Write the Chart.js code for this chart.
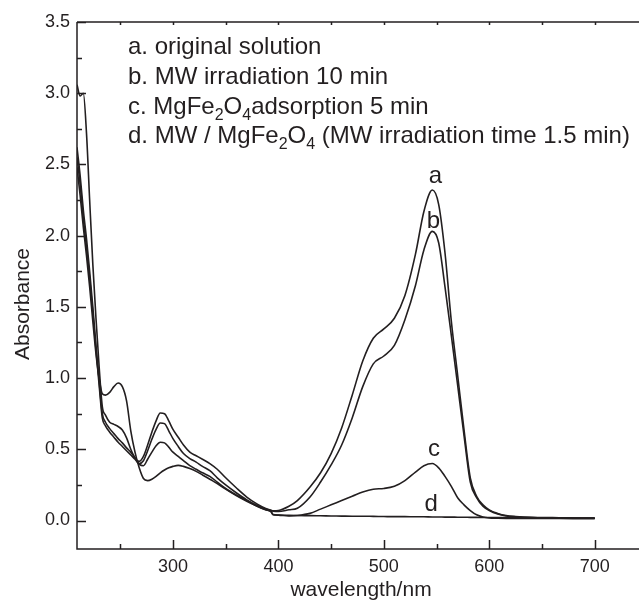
<!DOCTYPE html>
<html>
<head>
<meta charset="utf-8">
<script src="https://cdn.jsdelivr.net/npm/chart.js@4.4.0/dist/chart.umd.min.js"></script>
<style>
  html, body { margin: 0; padding: 0; background: #fff; }
  canvas { display: block; }
</style>
</head>
<body>
<canvas id="uvChart" width="639" height="600"></canvas>
<script>
// === DỮ LIỆU ===
// bước sóng (nm), dùng chung cho 4 đường
const wavelength = [209, 212, 215, 218, 221, 224, 227, 230, 233, 236,
    240, 244, 248, 252, 256, 260, 264, 268, 272, 276,
    280, 284, 288, 292, 296, 300, 305, 310, 316, 322,
    328, 335, 342, 350, 360, 370, 380, 388, 393, 395,
    400, 410, 418, 430, 440, 450, 460, 470, 480, 490,
    500, 510, 520, 530, 538, 546, 552, 558, 564, 570,
    576, 582, 588, 594, 600, 608, 616, 625, 640, 660,
    680, 700];

// a. original solution
const absA = [3.06, 2.98, 3.00, 2.72, 2.25, 1.80, 1.42, 1.08, 0.80, 0.74,
    0.69, 0.675, 0.66, 0.635, 0.58, 0.50, 0.44, 0.415, 0.45, 0.53,
    0.62, 0.70, 0.755, 0.75, 0.70, 0.64, 0.585, 0.53, 0.48, 0.455,
    0.43, 0.40, 0.36, 0.30, 0.23, 0.165, 0.115, 0.085, 0.072, 0.068,
    0.07, 0.10, 0.14, 0.235, 0.335, 0.47, 0.65, 0.88, 1.12, 1.28,
    1.345, 1.42, 1.58, 1.87, 2.17, 2.32, 2.22, 1.88, 1.40, 1.02,
    0.64, 0.30, 0.17, 0.11, 0.075, 0.05, 0.035, 0.028, 0.022, 0.02,
    0.018, 0.017];

// b. MW irradiation 10 min
const absB = [2.62, 2.42, 2.18, 1.98, 1.75, 1.50, 1.23, 0.98, 0.75, 0.69,
    0.645, 0.61, 0.575, 0.545, 0.51, 0.48, 0.44, 0.40, 0.42, 0.49,
    0.57, 0.64, 0.685, 0.68, 0.63, 0.575, 0.52, 0.47, 0.435, 0.41,
    0.38, 0.35, 0.30, 0.25, 0.195, 0.145, 0.105, 0.08, 0.07, 0.066,
    0.063, 0.075, 0.086, 0.165, 0.27, 0.39, 0.53, 0.72, 0.94, 1.10,
    1.155, 1.23, 1.41, 1.65, 1.90, 2.03, 1.95, 1.64, 1.30, 0.95,
    0.60, 0.27, 0.16, 0.10, 0.07, 0.045, 0.032, 0.026, 0.021, 0.019,
    0.018, 0.017];

// c. MgFe2O4 adsorption 5 min
const absC = [2.55, 2.36, 2.12, 1.92, 1.70, 1.46, 1.20, 0.95, 0.72, 0.665,
    0.62, 0.585, 0.55, 0.52, 0.49, 0.46, 0.43, 0.395, 0.385, 0.43,
    0.48, 0.525, 0.55, 0.545, 0.515, 0.48, 0.45, 0.42, 0.385, 0.36,
    0.335, 0.31, 0.27, 0.225, 0.18, 0.14, 0.10, 0.075, 0.062, 0.042,
    0.038, 0.032, 0.035, 0.05, 0.08, 0.11, 0.14, 0.17, 0.20, 0.22,
    0.225, 0.24, 0.28, 0.34, 0.385, 0.40, 0.37, 0.31, 0.24, 0.16,
    0.11, 0.07, 0.04, 0.025, 0.018, 0.016, 0.015, 0.015, 0.015, 0.014,
    0.013, 0.013];

// d. MW / MgFe2O4
const absD = [2.48, 2.28, 2.06, 1.86, 1.64, 1.40, 1.17, 1.00, 0.89, 0.88,
    0.90, 0.94, 0.965, 0.94, 0.84, 0.63, 0.48, 0.37, 0.295, 0.28,
    0.29, 0.31, 0.335, 0.355, 0.37, 0.38, 0.387, 0.38, 0.365, 0.345,
    0.32, 0.29, 0.26, 0.22, 0.175, 0.135, 0.10, 0.075, 0.062, 0.04,
    0.038, 0.036, 0.035, 0.034, 0.033, 0.032, 0.031, 0.030, 0.030, 0.029,
    0.028, 0.027, 0.027, 0.026, 0.026, 0.025, 0.025, 0.024, 0.024, 0.023,
    0.023, 0.022, 0.022, 0.021, 0.021, 0.020, 0.020, 0.020, 0.019, 0.018,
    0.017, 0.016];

const xTicks = [300, 400, 500, 600, 700];
const yTicks = [0, 0.5, 1.0, 1.5, 2.0, 2.5, 3.0, 3.5];

const curveNames = ['a', 'b', 'c', 'd'];
const curveLabelX = [549, 547, 547.5, 545];
const curveLabelY = [2.37, 2.055, 0.456, 0.07];

// chú thích (có chỉ số dưới)
const legendLines = [
    [['a. original solution']],
    [['b. MW irradiation 10 min']],
    [['c. MgFe'], ['2', 1], ['O'], ['4', 1], ['adsorption 5 min']],
    [['d. MW / MgFe'], ['2', 1], ['O'], ['4', 1], [' (MW irradiation time 1.5 min)']]
];

const INK = '#231f20';
const FONT = '"Liberation Sans", Arial, sans-serif';

function toPoints(ys) {
    return wavelength.map((x, i) => ({ x: x, y: ys[i] }));
}

// Khung, vạch chia hướng vào trong, tiêu đề trục, chú thích
const framePlugin = {
    id: 'frame',
    afterDraw(chart) {
        const ctx = chart.ctx;
        const { left, right, top, bottom } = chart.chartArea;
        const sx = chart.scales.x;
        const sy = chart.scales.y;
        ctx.save();
        ctx.strokeStyle = INK;
        ctx.lineWidth = 1.5;
        ctx.beginPath();
        ctx.moveTo(left, top);
        ctx.lineTo(left, bottom);
        ctx.lineTo(right, bottom);
        ctx.moveTo(left, top);
        ctx.lineTo(right, top);

        for (let v = 250; v <= 700; v += 50) {
            const px = Math.round(sx.getPixelForValue(v)) + 0.5;
            const len = v % 100 === 0 ? 9 : 5;
            ctx.moveTo(px, bottom);
            ctx.lineTo(px, bottom - len);
            ctx.moveTo(px, top);
            ctx.lineTo(px, top + 3);
        }
        for (let k = 0; k <= 14; k++) {
            const v = k * 0.25;
            const py = Math.round(sy.getPixelForValue(v)) + 0.5;
            const len = k % 2 === 0 ? 9 : 5;
            ctx.moveTo(left, py);
            ctx.lineTo(left + len, py);
        }
        ctx.stroke();

        ctx.fillStyle = INK;
        // tiêu đề trục
        ctx.font = '21px ' + FONT;
        ctx.textAlign = 'center';
        ctx.textBaseline = 'alphabetic';
        ctx.fillText('wavelength/nm', 361, 596);
        ctx.save();
        ctx.translate(29, 304);
        ctx.rotate(-Math.PI / 2);
        ctx.fillText('Absorbance', 0, 0);
        ctx.restore();

        // nhãn a, b, c, d trên đường
        ctx.font = '24px ' + FONT;
        curveNames.forEach((n, i) => {
            ctx.fillText(n, sx.getPixelForValue(curveLabelX[i]), sy.getPixelForValue(curveLabelY[i]));
        });

        // chú thích
        ctx.textAlign = 'left';
        const baselines = [54, 84, 114, 143];
        legendLines.forEach((parts, i) => {
            let x = left + 51;
            parts.forEach(p => {
                const sub = p[1] === 1;
                ctx.font = (sub ? '16px ' : '24px ') + FONT;
                ctx.fillText(p[0], x, baselines[i] + (sub ? 6 : 0));
                x += ctx.measureText(p[0]).width;
            });
        });
        ctx.restore();
    }
};

const ctxUv = document.getElementById('uvChart').getContext('2d');

const series = [absA, absB, absC, absD];

const uvChart = new Chart(ctxUv, {
    type: 'line',
    data: {
        datasets: series.map((ys, i) => ({
            label: curveNames[i],
            data: toPoints(ys),
            borderColor: INK,
            borderWidth: 1.6,
            pointRadius: 0,
            fill: false,
            cubicInterpolationMode: 'monotone'
        }))
    },
    options: {
        responsive: false,
        animation: false,
        devicePixelRatio: 1,
        layout: { padding: { top: 22, left: 0, right: 0, bottom: 0 } },
        plugins: {
            legend: { display: false },
            tooltip: { enabled: false }
        },
        scales: {
            x: {
                type: 'linear',
                min: 209,
                max: 742,
                grid: { display: false, drawTicks: false },
                border: { display: false },
                afterBuildTicks: s => { s.ticks = xTicks.map(v => ({ value: v })); },
                afterFit: s => { s.height = 51; },
                ticks: {
                    padding: 7,
                    color: INK,
                    font: { family: FONT, size: 18 },
                    maxRotation: 0
                }
            },
            y: {
                min: -0.2,
                max: 3.5,
                grid: { display: false, drawTicks: false },
                border: { display: false },
                afterBuildTicks: s => { s.ticks = yTicks.map(v => ({ value: v })); },
                afterFit: s => { s.width = 77; },
                ticks: {
                    padding: 7,
                    color: INK,
                    font: { family: FONT, size: 18 },
                    callback: v => v.toFixed(1)
                }
            }
        }
    },
    plugins: [framePlugin]
});
</script>
</body>
</html>
